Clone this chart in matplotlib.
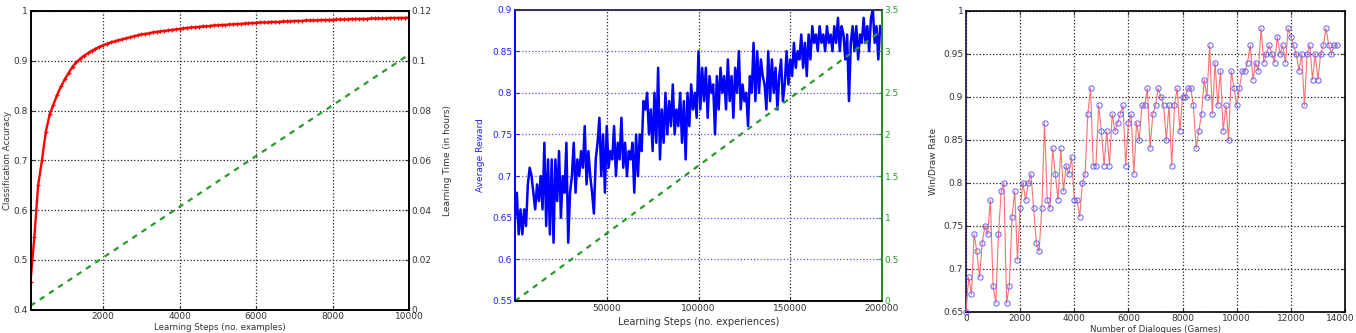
import numpy as np
import matplotlib
matplotlib.use("Agg")
import matplotlib.pyplot as plt
import matplotlib.transforms as mtransforms

# ---------------- Panel 1 data ----------------
p1_steps = np.arange(100, 10001, 100)
p1_accuracy = [
    0.455, 0.545, 0.650, 0.700, 0.757, 0.792, 0.812, 0.832, 0.849, 0.863,
    0.876, 0.888, 0.897, 0.904, 0.910, 0.915, 0.920, 0.924, 0.928, 0.931,
    0.934, 0.937, 0.939, 0.941, 0.943, 0.945, 0.947, 0.949, 0.951, 0.953,
    0.954, 0.955, 0.957, 0.958, 0.959, 0.960, 0.961, 0.962, 0.963, 0.964,
    0.965, 0.966, 0.967, 0.967, 0.968, 0.969, 0.969, 0.970, 0.971, 0.971,
    0.972, 0.972, 0.973, 0.973, 0.974, 0.974, 0.975, 0.975, 0.976, 0.976,
    0.977, 0.977, 0.977, 0.978, 0.978, 0.978, 0.979, 0.979, 0.979, 0.980,
    0.980, 0.980, 0.981, 0.981, 0.981, 0.981, 0.982, 0.982, 0.982, 0.982,
    0.983, 0.983, 0.983, 0.983, 0.984, 0.984, 0.984, 0.984, 0.984, 0.985,
    0.985, 0.985, 0.985, 0.985, 0.986, 0.986, 0.986, 0.986, 0.986, 0.987,
]
p1_time_steps = [100, 10000]
p1_time_hours = [0.0015, 0.1025]

# ---------------- Panel 2 data ----------------
p2_steps = np.arange(0, 200000, 1000)
p2_reward = [
    0.65, 0.68, 0.63, 0.66, 0.63, 0.66, 0.64, 0.69, 0.71, 0.70,
    0.68, 0.66, 0.69, 0.67, 0.70, 0.66, 0.74, 0.64, 0.72, 0.63,
    0.72, 0.62, 0.72, 0.67, 0.73, 0.65, 0.70, 0.68, 0.74, 0.62,
    0.68, 0.70, 0.74, 0.68, 0.72, 0.70, 0.73, 0.71, 0.76, 0.69,
    0.73, 0.70, 0.68, 0.655, 0.72, 0.74, 0.77, 0.70, 0.75, 0.68,
    0.76, 0.71, 0.73, 0.72, 0.76, 0.70, 0.74, 0.72, 0.77, 0.71,
    0.74, 0.70, 0.73, 0.72, 0.74, 0.68, 0.75, 0.70, 0.75, 0.73,
    0.79, 0.78, 0.80, 0.75, 0.78, 0.73, 0.80, 0.74, 0.83, 0.72,
    0.78, 0.74, 0.80, 0.75, 0.79, 0.76, 0.81, 0.75, 0.78, 0.76,
    0.80, 0.74, 0.79, 0.72, 0.80, 0.76, 0.81, 0.78, 0.80, 0.77,
    0.85, 0.78, 0.83, 0.79, 0.83, 0.77, 0.82, 0.80, 0.81, 0.75,
    0.82, 0.78, 0.83, 0.80, 0.82, 0.78, 0.84, 0.79, 0.82, 0.77,
    0.83, 0.80, 0.85, 0.78, 0.81, 0.79, 0.80, 0.76, 0.82, 0.80,
    0.86, 0.79, 0.85, 0.80, 0.84, 0.82, 0.81, 0.78, 0.85, 0.79,
    0.84, 0.80, 0.83, 0.78, 0.82, 0.84, 0.79, 0.81, 0.85, 0.81,
    0.84, 0.82, 0.86, 0.83, 0.85, 0.84, 0.87, 0.83, 0.86, 0.82,
    0.87, 0.84, 0.88, 0.86, 0.87, 0.85, 0.88, 0.86, 0.87, 0.85,
    0.88, 0.86, 0.87, 0.85, 0.88, 0.86, 0.89, 0.85, 0.88, 0.87,
    0.84, 0.87, 0.79, 0.86, 0.88, 0.85, 0.88, 0.84, 0.87, 0.86,
    0.89, 0.86, 0.88, 0.85, 0.89, 0.90, 0.86, 0.88, 0.84, 0.88,
]
p2_time_steps = [0, 200000]
p2_time_hours = [0.0, 3.25]

# ---------------- Panel 3 data ----------------
p3_games = np.arange(0, 13800, 100)
p3_rate = [
    0.65, 0.69, 0.67, 0.74, 0.72, 0.69, 0.73, 0.75, 0.74, 0.78,
    0.68, 0.66, 0.74, 0.79, 0.80, 0.66, 0.68, 0.76, 0.79, 0.71,
    0.77, 0.80, 0.78, 0.80, 0.81, 0.77, 0.73, 0.72, 0.77, 0.87,
    0.78, 0.77, 0.84, 0.81, 0.78, 0.84, 0.79, 0.82, 0.81, 0.83,
    0.78, 0.78, 0.76, 0.80, 0.81, 0.88, 0.91, 0.82, 0.82, 0.89,
    0.86, 0.82, 0.86, 0.82, 0.88, 0.86, 0.87, 0.88, 0.89, 0.82,
    0.87, 0.88, 0.81, 0.87, 0.85, 0.89, 0.89, 0.91, 0.84, 0.88,
    0.89, 0.91, 0.90, 0.89, 0.85, 0.89, 0.82, 0.89, 0.91, 0.86,
    0.90, 0.90, 0.91, 0.91, 0.89, 0.84, 0.86, 0.88, 0.92, 0.90,
    0.96, 0.88, 0.94, 0.89, 0.93, 0.86, 0.89, 0.85, 0.93, 0.91,
    0.89, 0.91, 0.93, 0.93, 0.94, 0.96, 0.92, 0.94, 0.93, 0.98,
    0.94, 0.95, 0.96, 0.95, 0.94, 0.97, 0.95, 0.96, 0.94, 0.98,
    0.97, 0.96, 0.95, 0.93, 0.95, 0.89, 0.95, 0.96, 0.92, 0.95,
    0.92, 0.95, 0.96, 0.98, 0.96, 0.95, 0.96, 0.96,
]

p1_xticks = [2000, 4000, 6000, 8000, 10000]
p1_yticks = [0.4, 0.5, 0.6, 0.7, 0.8, 0.9, 1.0]
p1_yticklabels = ["0.4", "0.5", "0.6", "0.7", "0.8", "0.9", "1"]
p1_rticks = [0, 0.02, 0.04, 0.06, 0.08, 0.1, 0.12]
p1_rticklabels = ["0", "0.02", "0.04", "0.06", "0.08", "0.1", "0.12"]
p2_xticks = [50000, 100000, 150000, 200000]
p2_yticks = [0.55, 0.6, 0.65, 0.7, 0.75, 0.8, 0.85, 0.9]
p2_rticks = [0, 0.5, 1, 1.5, 2, 2.5, 3, 3.5]
p2_rticklabels = ["0", "0.5", "1", "1.5", "2", "2.5", "3", "3.5"]
p3_xticks = [0, 2000, 4000, 6000, 8000, 10000, 12000, 14000]
p3_yticks = [0.65, 0.7, 0.75, 0.8, 0.85, 0.9, 0.95, 1.0]
p3_yticklabels = ["0.65", "0.7", "0.75", "0.8", "0.85", "0.9", "0.95", "1"]

W, H = 1356, 333
fig = plt.figure(figsize=(W / 100, H / 100), dpi=100)

FS = 6.5
TXT = "#333333"
BLUE = "#2020ff"
GREEN = "#2a9a2a"


def box(l, t, r, b):
    return [l / W, 1 - b / H, (r - l) / W, (b - t) / H]


def style(ax, color=TXT):
    ax.tick_params(direction="in", length=3, width=0.8, labelsize=FS,
                   colors=color, pad=2)
    for s in ax.spines.values():
        s.set_linewidth(1.2)


# ---------- Panel 1 ----------
ax1 = fig.add_axes(box(30.5, 11, 409, 309.5))
ax1.plot(p1_steps, p1_accuracy, color="#ff0000", lw=1.7, marker="+",
         ms=3.5, mew=0.9, zorder=3)
ax1.set_xlim(100, 10000)
ax1.set_ylim(0.4, 1.0)
ax1.set_xticks(p1_xticks)
ax1.set_yticks(p1_yticks)
ax1.set_yticklabels(p1_yticklabels)
ax1.grid(True, linestyle=":", color="#222222", lw=0.9)
style(ax1)
ax1.set_ylabel("Classification Accuracy", fontsize=FS - 0.3, color=TXT,
               labelpad=1)
ax1.set_xlabel("Learning Steps (no. examples)", fontsize=FS - 0.3, color=TXT,
               labelpad=1)
ax1r = ax1.twinx()
ax1r.plot(p1_time_steps, p1_time_hours, color=GREEN, lw=1.6,
          linestyle=(0, (2.5, 2.5)))
ax1r.set_ylim(0, 0.12)
ax1r.set_yticks(p1_rticks)
ax1r.set_yticklabels(p1_rticklabels)
style(ax1r)
ax1r.set_ylabel("Learning Time (in hours)", fontsize=FS, color=TXT,
                labelpad=8)

# ---------- Panel 2 ----------
ax2 = fig.add_axes(box(515, 9.5, 882, 301))
ax2.plot(p2_steps, p2_reward, color="#0000ff", lw=1.8, zorder=3)
ax2.set_xlim(0, 200000)
ax2.set_ylim(0.55, 0.9)
ax2.set_xticks(p2_xticks)
ax2.set_yticks(p2_yticks)
ax2.set_yticklabels([f"{v:g}" for v in p2_yticks])
ax2.yaxis.grid(True, linestyle=":", color="#5555ee", lw=0.9)
ax2.xaxis.grid(True, linestyle=":", color="#222222", lw=0.9)
style(ax2)
ax2.tick_params(axis="y", colors=BLUE)
ax2.tick_params(axis="x", colors=TXT)
ax2.spines["left"].set_color("#0000ff")
ax2.spines["top"].set_color("#333355")
ax2.spines["bottom"].set_color("#333333")
ax2.set_ylabel("Average Reward", fontsize=FS, color=BLUE, labelpad=5)
ax2.set_xlabel("Learning Steps (no. experiences)", fontsize=FS + 0.5,
               color=TXT, labelpad=3)
ax2r = ax2.twinx()
ax2r.plot(p2_time_steps, p2_time_hours, color=GREEN, lw=1.6,
          linestyle=(0, (2.5, 2.5)))
ax2r.set_ylim(0, 3.5)
ax2r.set_yticks(p2_rticks)
ax2r.set_yticklabels(p2_rticklabels)
style(ax2r)
ax2r.tick_params(axis="y", colors=GREEN)
ax2r.spines["right"].set_color(GREEN)
ax2r.spines["left"].set_color("#0000ff")
ax2r.spines["top"].set_color("#333355")

# ---------- Panel 3 ----------
ax3 = fig.add_axes(box(966, 11, 1345, 311.5))
ax3.plot(p3_games, p3_rate, color="#ff7070", lw=0.8, marker="o", ms=3.8,
         mfc="none", mec="#6060ff", mew=0.7, zorder=3, clip_on=False)
ax3.set_xlim(0, 14000)
ax3.set_ylim(0.65, 1.0)
ax3.set_xticks(p3_xticks)
ax3.set_yticks(p3_yticks)
ax3.set_yticklabels(p3_yticklabels)
ax3.grid(True, linestyle=":", color="#222222", lw=0.9)
style(ax3)
ax3.tick_params(top=True, right=True)
ax3.spines["left"].set_color("#101050")
ax3.set_ylabel("Win/Draw Rate", fontsize=FS, color=TXT, labelpad=4)
ax3.set_xlabel("Number of Dialogues (Games)", fontsize=FS - 0.3, color=TXT,
               labelpad=1)
# keep the last x tick label inside the canvas
last = ax3.get_xticklabels()[-1]
last.set_horizontalalignment("right")
last.set_transform(last.get_transform() +
                   mtransforms.ScaledTranslation(10 / 100, 0,
                                                 fig.dpi_scale_trans))

fig.savefig("out.png", dpi=100)
